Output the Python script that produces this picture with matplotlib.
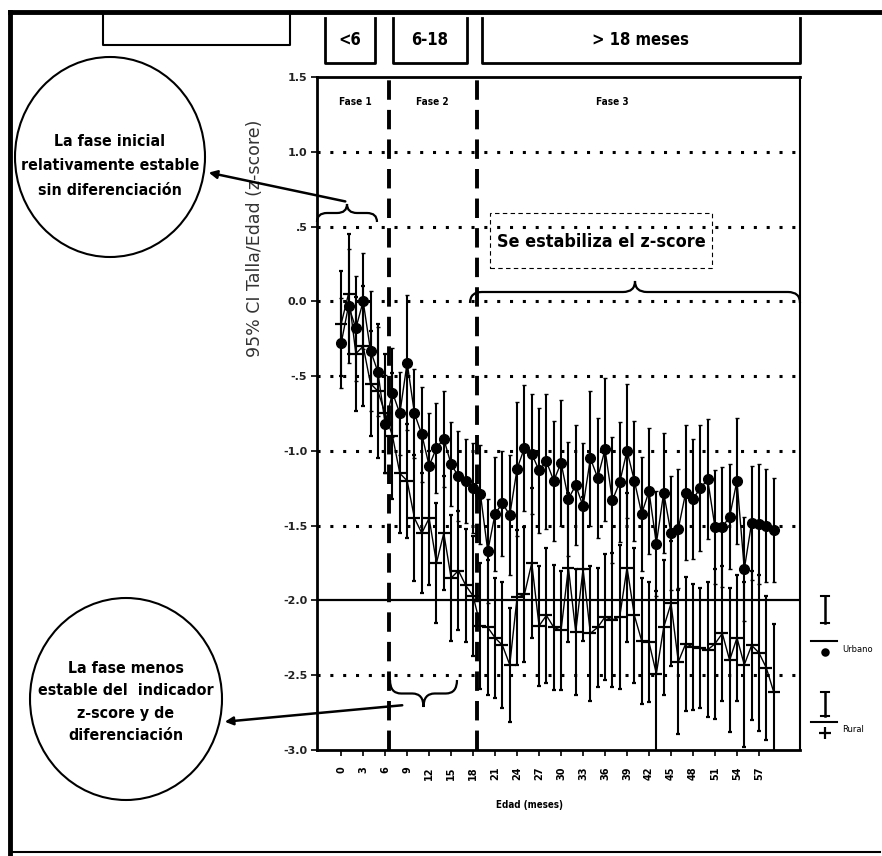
import matplotlib
matplotlib.use("Agg")
import matplotlib.pyplot as plt
from matplotlib import font_manager as fm
from matplotlib.lines import Line2D
from matplotlib.patches import Ellipse, Rectangle, PathPatch, FancyArrowPatch
from matplotlib.path import Path

# --- data ---
months = list(range(60))
urbano = [-0.28, -0.03, -0.18, 0.00, -0.33, -0.47, -0.82, -0.61, -0.75, -0.41,
          -0.75, -0.89, -1.10, -0.98, -0.92, -1.09, -1.17, -1.20, -1.25, -1.29,
          -1.67, -1.42, -1.35, -1.43, -1.12, -0.98, -1.02, -1.13, -1.07, -1.20,
          -1.08, -1.32, -1.23, -1.37, -1.05, -1.18, -0.99, -1.33, -1.21, -1.00,
          -1.20, -1.42, -1.27, -1.62, -1.28, -1.55, -1.52, -1.28, -1.32, -1.25,
          -1.19, -1.51, -1.51, -1.44, -1.20, -1.79, -1.48, -1.49, -1.50, -1.53]
urbano_ci = [0.30, 0.38, 0.35, 0.32, 0.40, 0.30, 0.33, 0.30, 0.28, 0.45,
             0.30, 0.32, 0.35, 0.30, 0.32, 0.28, 0.30, 0.28, 0.30, 0.33,
             0.35, 0.38, 0.35, 0.40, 0.45, 0.42, 0.40, 0.42, 0.45, 0.40,
             0.42, 0.38, 0.40, 0.42, 0.45, 0.40, 0.48, 0.42, 0.40, 0.45,
             0.40, 0.38, 0.42, 0.35, 0.40, 0.38, 0.40, 0.45, 0.40, 0.42,
             0.40, 0.38, 0.40, 0.35, 0.42, 0.35, 0.38, 0.40, 0.38, 0.35]
rural = [-0.15, 0.05, -0.35, -0.30, -0.55, -0.60, -0.75, -0.90, -1.15, -1.20,
         -1.45, -1.55, -1.45, -1.75, -1.55, -1.85, -1.80, -1.90, -1.97, -2.17,
         -2.18, -2.25, -2.30, -2.43, -1.98, -1.96, -1.75, -2.17, -2.10, -2.18,
         -2.20, -1.78, -2.21, -1.79, -2.22, -2.18, -2.11, -2.13, -2.11, -1.78,
         -2.10, -2.27, -2.28, -2.49, -2.18, -2.02, -2.41, -2.29, -2.31, -2.32,
         -2.33, -2.29, -2.22, -2.40, -2.25, -2.43, -2.30, -2.35, -2.45, -2.61]
rural_ci = [0.35, 0.40, 0.38, 0.40, 0.35, 0.45, 0.40, 0.42, 0.40, 0.38,
            0.42, 0.40, 0.45, 0.40, 0.38, 0.42, 0.40, 0.38, 0.40, 0.42,
            0.45, 0.40, 0.42, 0.38, 0.45, 0.45, 0.50, 0.40, 0.45, 0.42,
            0.40, 0.50, 0.42, 0.48, 0.45, 0.40, 0.42, 0.45, 0.48, 0.50,
            0.45, 0.42, 0.40, 0.55, 0.45, 0.42, 0.48, 0.45, 0.42, 0.40,
            0.45, 0.50, 0.45, 0.48, 0.42, 0.55, 0.50, 0.52, 0.48, 0.45]
yticks = [1.5, 1.0, 0.5, 0.0, -0.5, -1.0, -1.5, -2.0, -2.5, -3.0]
ytick_labels = ["1.5", "1.0", ".5", "0.0", "-.5", "-1.0", "-1.5", "-2.0", "-2.5", "-3.0"]
xticks = list(range(0, 60, 3))
dotted_levels = [1.0, 0.5, 0.0, -0.5, -1.0, -1.5, -2.5]
phase_bounds = [6.5, 18.5]
phase_names = ["Fase 1", "Fase 2", "Fase 3"]
phase_x = [2.0, 12.5, 37.0]

# a narrow face if one is installed, else plain DejaVu Sans
names = {f.name for f in fm.fontManager.ttflist}
has_cond = any(f.name == "DejaVu Sans" and f.stretch == "condensed"
               for f in fm.fontManager.ttflist)
if "Liberation Sans Narrow" in names:
    NARROW = dict(family="Liberation Sans Narrow")
    scale = 1.0
elif has_cond:
    NARROW = dict(family="DejaVu Sans", fontstretch="condensed")
    scale = 0.85
else:
    NARROW = dict(family="DejaVu Sans")
    scale = 0.78

W, H = 882, 856
fig = plt.figure(figsize=(W / 100, H / 100), dpi=100)


def fx(x):
    return x / W


def fy(y):
    return 1 - y / H


def fline(xs, ys, **kw):
    fig.add_artist(Line2D([fx(x) for x in xs], [fy(y) for y in ys],
                          transform=fig.transFigure, color="black", **kw))


def brace(x0, x1, yb, h, lw=1.6):
    # horizontal curly brace in pixel coords, h<0 points up
    xm = (x0 + x1) / 2
    r = min(12, (x1 - x0) / 6)
    ymid = yb + h / 2
    verts = [(x0, yb), (x0, ymid), (x0 + r, ymid),
             (xm - r, ymid),
             (xm, ymid), (xm, yb + h),
             (xm, ymid), (xm + r, ymid),
             (x1 - r, ymid),
             (x1, ymid), (x1, yb)]
    codes = [Path.MOVETO, Path.CURVE3, Path.CURVE3, Path.LINETO,
             Path.CURVE3, Path.CURVE3, Path.CURVE3, Path.CURVE3,
             Path.LINETO, Path.CURVE3, Path.CURVE3]
    verts = [(fx(a), fy(b)) for a, b in verts]
    fig.add_artist(PathPatch(Path(verts, codes), fill=False, lw=lw,
                             transform=fig.transFigure))


ax = fig.add_axes([317 / W, 1 - 750 / H, (800 - 317) / W, (750 - 77) / H])
ax.set_xlim(-3.3, 62.6)
ax.set_ylim(-3.0, 1.5)

for v in dotted_levels:
    ax.axhline(v, color="black", lw=2.2, ls=(0, (1.0, 3.2)), zorder=1)
ax.axhline(-2.0, color="black", lw=1.6, zorder=1)
for b in phase_bounds:
    ax.axvline(b, color="black", lw=2.8, ls=(0, (5, 2.6)), zorder=2)

ax.errorbar(months, rural, yerr=rural_ci, fmt="_-", color="black", ms=8,
            mew=1.6, lw=1.0, elinewidth=1.5, capsize=1.5, zorder=3)
ax.errorbar(months, urbano, yerr=urbano_ci, fmt="o-", color="black", ms=7,
            lw=1.0, elinewidth=1.5, capsize=1.5, zorder=4)

for name, px in zip(phase_names, phase_x):
    ax.text(px, 1.33, name, ha="center", va="center", fontsize=8.5 * scale,
            fontweight="bold", **NARROW)

ax.set_yticks(yticks)
ax.set_yticklabels(ytick_labels, fontsize=8, fontweight="bold", color="#222222")
ax.set_xticks(xticks)
ax.set_xticklabels([str(t) for t in xticks], rotation=90, fontsize=7,
                   fontweight="bold")
ax.tick_params(axis="y", length=4, width=1.2, pad=3)
ax.tick_params(axis="x", length=4, width=1.2, pad=8)
for s in ["left", "bottom", "top"]:
    ax.spines[s].set_linewidth(2.0)
ax.spines["right"].set_linewidth(1.5)

ax.set_ylabel("95% CI Talla/Edad (z-score)", fontsize=12.5, color="#333333")
ax.yaxis.set_label_coords(-0.11, 0.76)
ax.set_xlabel("Edad (meses)", fontsize=7, fontweight="bold", **NARROW)
ax.xaxis.set_label_coords(0.44, -0.075)

# outer frame
fline([10, 10], [12, 856], lw=3.5)
fline([10, 882], [12, 12], lw=3.5)
fline([10, 880], [852, 852], lw=1.5)

# top boxes
fline([103, 103, 290, 290], [12, 45, 45, 12], lw=1.5)
for x0, x1, lab in [(325, 375, "<6"), (393, 467, "6-18"), (482, 800, "> 18 meses")]:
    fline([x0, x0, x1, x1], [18, 63, 63, 18], lw=2.0)
    fig.text(fx((x0 + x1) / 2), fy(40), lab, ha="center", va="center",
             fontsize=14 * scale, fontweight="bold", **NARROW)

# circles with notes
fig.add_artist(Ellipse((fx(110), fy(157)), 190 / W, 200 / H, fill=False,
                       lw=1.5, transform=fig.transFigure))
fig.text(fx(110), fy(166), "La fase inicial\nrelativamente estable\nsin diferenciación",
         ha="center", va="center", fontsize=13.5 * scale, linespacing=1.8,
         fontweight="bold", **NARROW)
fig.add_artist(Ellipse((fx(126), fy(699)), 192 / W, 202 / H, fill=False,
                       lw=1.5, transform=fig.transFigure))
fig.text(fx(126), fy(702), "La fase menos\nestable del  indicador\nz-score y de\ndiferenciación",
         ha="center", va="center", fontsize=13.5 * scale, linespacing=1.6,
         fontweight="bold", **NARROW)

# braces and arrows
brace(317, 377, 222, -18)
brace(470, 800, 303, -22)
brace(390, 457, 680, 27)
fig.add_artist(FancyArrowPatch(
    (fx(348), fy(202)), (fx(206), fy(172)), transform=fig.transFigure,
    arrowstyle="-|>", mutation_scale=12, lw=1.8, color="black"))
fig.add_artist(FancyArrowPatch(
    (fx(405), fy(705)), (fx(222), fy(722)), transform=fig.transFigure,
    arrowstyle="-|>", mutation_scale=12, lw=1.8, color="black"))

# note box
fig.add_artist(Rectangle((fx(490), fy(268)), 222 / W, 55 / H, fill=False,
                         lw=0.8, ls=(0, (4, 3)), transform=fig.transFigure))
fig.text(fx(601), fy(242), "Se estabiliza el z-score", ha="center", va="center",
         fontsize=15.2 * scale, fontweight="bold", **NARROW)

# right-hand legend
for ytop, ybot, yline, marker, ms, lab in [(596, 623, 641, "o", 4.5, "Urbano"),
                                           (692, 716, 722, "+", 8, "Rural")]:
    fline([825, 825], [ytop, ybot], lw=1.8)
    fline([821, 829], [ytop, ytop], lw=1.5)
    fline([821, 829], [ybot, ybot], lw=1.5)
    fline([811, 837], [yline, yline], lw=1.5)
    fline([825], [yline + 11], marker=marker, ms=ms, mew=1.6, lw=0)
    fig.text(fx(842), fy(yline + 8), lab, ha="left", va="center", fontsize=6)

fig.savefig("out.png", dpi=100)
